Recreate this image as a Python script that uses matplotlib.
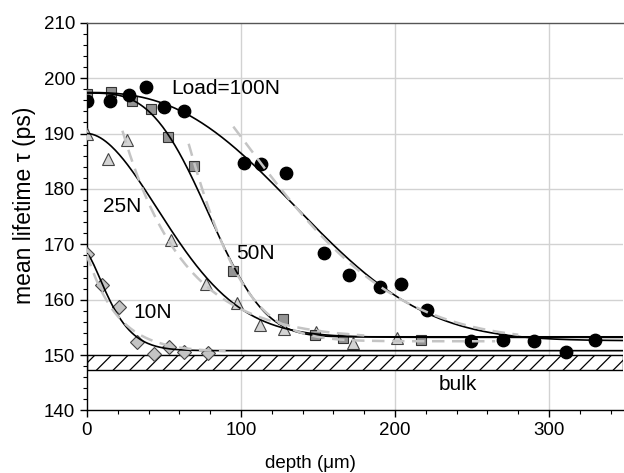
import numpy as np
import matplotlib
matplotlib.use("Agg")
import matplotlib.pyplot as plt
from matplotlib.patches import Rectangle
from matplotlib.ticker import MultipleLocator

plt.rcParams['font.family'] = ['Liberation Sans', 'DejaVu Sans']
plt.rcParams['hatch.linewidth'] = 0.9

# ---- data ----
d100 = [0, 15, 27, 38, 50, 63, 102, 113, 129, 154, 170, 190, 204, 221, 249, 270, 290, 311, 330]
t100 = [195.8, 195.8, 196.9, 198.4, 194.7, 194.1, 184.6, 184.5, 182.8, 168.5, 164.4,
        162.3, 162.9, 158.1, 152.6, 152.7, 152.6, 150.5, 152.7]

d50 = [0, 15.6, 29, 41.4, 52.8, 69.7, 94.6, 127, 148, 166, 217]
t50 = [197.1, 197.5, 195.8, 194.5, 189.4, 184.1, 165.2, 156.6, 153.7, 153.0, 152.7]

d25 = [0, 13.9, 25.8, 54.3, 77.3, 97.6, 112, 128, 149, 173, 201.5]
t25 = [190.0, 185.4, 188.8, 170.8, 162.9, 159.4, 155.5, 154.8, 154.2, 152.2, 153.0]

d10 = [0, 9.5, 21, 32.2, 43.5, 53.5, 63, 78.8]
t10 = [168.3, 162.7, 158.6, 152.3, 150.2, 151.4, 150.6, 150.4]

# fit curve parameters: tau = tb + A*exp(-(x/L)**p), drawn over [x0, x1]
fit_solid = {
    '100N': (152.6, 44.8, 163, 2.6, 0, 350),
    '50N': (153.3, 44.0, 89, 3.2, 0, 350),
    '25N': (153.2, 36.8, 69.4, 1.85, 0, 350),
    '10N': (150.8, 17.5, 20, 1.4, 0, 350),
}
fit_dashed = {
    '100N': (152.5, 61, 141, 2.0, 95, 280),
    '50N': (152.5, 89, 69, 2.0, 66, 265),
    '25N': (152.8, 67, 40, 1.0, 23, 180),
    '10N': (150.5, 17.7, 20, 1.0, 0, 90),
}

bulk_low, bulk_high = 147.3, 150.1

labels = ['Load=100N', '25N', '50N', '10N', 'bulk']
label_pos = [(55, 198.1), (10.2, 176.8), (96.8, 168.4), (30, 157.7), (241, 144.7)]


def profile(x, tb, A, L, p):
    return tb + A * np.exp(-(x / L) ** p)


fig = plt.figure(figsize=(6.24, 4.73), dpi=100)
ax = fig.add_axes([87 / 624, 1 - 410.5 / 473, (623 - 87) / 624, (410.5 - 22.7) / 473])

ax.set_xlim(0, 348)
ax.set_ylim(140, 210)

# grid
for gx in [100, 200, 300]:
    ax.axvline(gx, color='#d2d2d2', lw=1.0, zorder=0)
for gy in range(150, 210, 10):
    ax.axhline(gy, color='#d2d2d2', lw=1.0, zorder=0)

# bulk band
ax.add_patch(Rectangle((0, bulk_low), 348, bulk_high - bulk_low, facecolor='white',
                       edgecolor='black', hatch='//', lw=1.0, zorder=1))

# markers
ms = 8.5
ax.plot(d10, t10, ls='none', marker='D', ms=ms * 0.85, mfc='#c4c4c4', mec='#444444', mew=0.8, zorder=3)
ax.plot(d25, t25, ls='none', marker='^', ms=ms, mfc='#d4d4d4', mec='#444444', mew=0.8, zorder=3)
ax.plot(d50, t50, ls='none', marker='s', ms=ms * 0.9, mfc='#949494', mec='#333333', mew=0.8, zorder=3)
ax.plot(d100, t100, ls='none', marker='o', ms=ms * 1.05, mfc='black', mec='black', zorder=3)

# fits
for key, (tb, A, L, p, x0, x1) in fit_solid.items():
    xx = np.linspace(x0, x1, 400)
    ax.plot(xx, profile(xx, tb, A, L, p), color='black', lw=1.2, zorder=4)
for key, (tb, A, L, p, x0, x1) in fit_dashed.items():
    xx = np.linspace(x0, x1, 400)
    ax.plot(xx, profile(xx, tb, A, L, p), color='#c4c4c4', lw=1.8, ls=(0, (5, 3)), zorder=5)

# annotations
for txt, (x, y) in zip(labels, label_pos):
    if txt == 'bulk':
        ax.text(x, y, txt, fontsize=15, ha='center', va='center', zorder=6)
    else:
        ax.text(x, y, txt, fontsize=15, ha='left', va='center', zorder=6)

# axes styling
ax.spines['right'].set_visible(False)
for s in ['left', 'bottom', 'top']:
    ax.spines[s].set_linewidth(1.0)
ax.spines['top'].set_color('#555555')

ax.xaxis.set_major_locator(MultipleLocator(100))
ax.xaxis.set_minor_locator(MultipleLocator(20))
ax.yaxis.set_major_locator(MultipleLocator(10))
ax.yaxis.set_minor_locator(MultipleLocator(2))
ax.tick_params(axis='both', which='major', direction='out', length=5, width=1.0, labelsize=13.5)
ax.tick_params(axis='both', which='minor', direction='out', length=3, width=0.8)
ax.tick_params(top=False, right=False, which='both')

ax.set_xlabel('depth (μm)', fontsize=13.5)
ax.set_ylabel('mean lifetime τ (ps)', fontsize=16.5)
ax.xaxis.set_label_coords((310 - 87) / 536, (410.5 - 463) / 387.8)
ax.xaxis.label.set_va('center')
ax.yaxis.set_label_coords((25 - 87) / 536, (410.5 - 205) / 387.8)
ax.yaxis.label.set_va('center')
ax.yaxis.label.set_ha('center')

fig.savefig('out.png', dpi=100)
